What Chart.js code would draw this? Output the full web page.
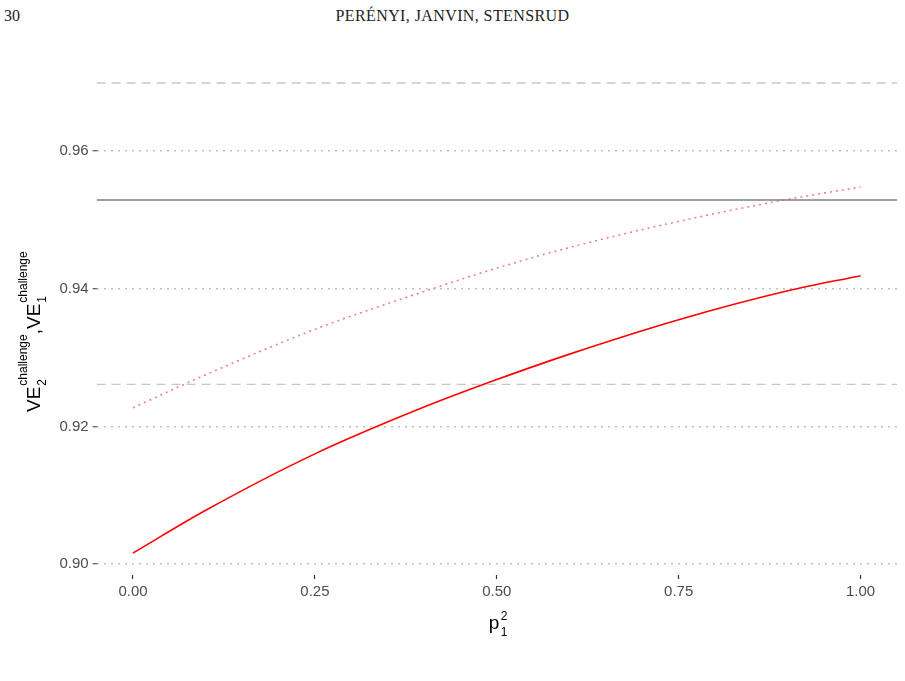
<!DOCTYPE html>
<html><head><meta charset="utf-8">
<script src="https://cdn.jsdelivr.net/npm/chart.js@4"></script>
<style>
body{margin:0;background:#fff;width:905px;height:681px;overflow:hidden;position:relative}
#hdr{position:absolute;top:7px;left:0;width:905px;font-family:"Liberation Serif",serif;font-size:16px;color:#222}
#pg{position:absolute;left:4px;top:0}
#ttl{position:absolute;left:0;width:905px;text-align:center;top:0;letter-spacing:0.4px}
#wrap{position:absolute;left:0;top:50px;width:905px;height:600px}
</style></head><body>
<div id="hdr"><span id="pg">30</span><div id="ttl">PERÉNYI, JANVIN, STENSRUD</div></div>
<div id="wrap"><canvas id="c"></canvas></div>
<script>
// values
let xs = [0, 0.1, 0.25, 0.4, 0.5, 0.6, 0.75, 0.9, 1];
let solidRed = [0.9016, 0.9078, 0.9160, 0.9228, 0.9268, 0.9305, 0.9355, 0.9397, 0.9419];
let dottedRed = [0.9227, 0.9275, 0.9341, 0.9396, 0.9430, 0.9460, 0.9498, 0.9530, 0.9548];
let grayLine = 0.9529;
let dashLines = [0.9699, 0.9261];
let xTicks = [0, 0.25, 0.5, 0.75, 1];
let yTicks = [0.90, 0.92, 0.94, 0.96];

const pts = ys => xs.map((x, i) => ({x: x, y: ys[i]}));
const hline = y => [{x: -0.05, y: y}, {x: 1.05, y: y}];

let datasets = [
  {data: hline(dashLines[0]), borderColor: '#c8c8c8', borderWidth: 1.3, borderDash: [9, 6]},
  {data: hline(dashLines[1]), borderColor: '#c8c8c8', borderWidth: 1.3, borderDash: [9, 6]},
  {data: [{x: -0.05, y: grayLine}, {x: 1.06, y: grayLine}], borderColor: '#7f7f7f', borderWidth: 1.5},
  {data: pts(dottedRed), borderColor: '#f27b7b', borderWidth: 1.5, borderDash: [2, 4], cubicInterpolationMode: 'monotone'},
  {data: pts(solidRed), borderColor: '#ff0000', borderWidth: 1.6, cubicInterpolationMode: 'monotone'}
];
datasets.forEach(d => { d.pointRadius = 0; d.fill = false; });

const titles = {
  id: 'titles',
  afterDraw(chart) {
    let ctx = chart.ctx;
    ctx.save();
    ctx.fillStyle = '#000';
    // x title p^2_1
    ctx.font = '19px "Liberation Sans", Arial';
    ctx.textBaseline = 'alphabetic';
    let cx = (chart.chartArea.left + chart.chartArea.right) / 2 - 8;
    ctx.fillText('p', cx, 579);
    ctx.font = '12px "Liberation Sans", Arial';
    ctx.fillText('2', cx + 12, 570);
    ctx.fillText('1', cx + 12, 586);
    // y title
    ctx.translate(40, 320);
    ctx.rotate(-Math.PI / 2);
    let x = -42;
    const big = '19px "Liberation Sans", Arial', small = '12px "Liberation Sans", Arial';
    ctx.font = big; ctx.fillText('VE', x, 0); x += ctx.measureText('VE').width;
    ctx.font = small; ctx.fillText('2', x + 1, 6); ctx.fillText('challenge', x + 1, -13);
    x += ctx.measureText('challenge').width + 1;
    ctx.font = big; ctx.fillText(',VE', x, 0); x += ctx.measureText(',VE').width;
    ctx.font = small; ctx.fillText('1', x + 1, 6); ctx.fillText('challenge', x + 1, -13);
    ctx.restore();
  }
};

const tickFont = {size: 15, family: '"Liberation Sans", Arial'};

new Chart(document.getElementById('c'), {
  type: 'line',
  data: {datasets: datasets},
  options: {
    responsive: true, maintainAspectRatio: false, animation: false,
    layout: {padding: {top: 22, right: 8, left: 0, bottom: 0}},
    plugins: {legend: {display: false}, tooltip: {enabled: false}},
    scales: {
      x: {
        type: 'linear', min: -0.05, max: 1.05,
        afterBuildTicks: s => { s.ticks = xTicks.map(v => ({value: v})); },
        afterFit: s => { s.height = 75; },
        border: {display: false},
        grid: {drawOnChartArea: false, tickLength: 4, tickColor: '#333', tickWidth: 1.2},
        ticks: {color: '#4d4d4d', font: tickFont, padding: 4, callback: v => v.toFixed(2)}
      },
      y: {
        min: 0.8984, max: 0.9715,
        afterBuildTicks: s => { s.ticks = yTicks.map(v => ({value: v})); },
        afterFit: s => { s.width = 96.6; },
        border: {display: false, dash: [2, 5]},
        grid: {color: '#c0c0c0', lineWidth: 1.5, tickLength: 4, tickColor: '#333', tickWidth: 1.2, tickBorderDash: [1, 0]},
        ticks: {color: '#4d4d4d', font: tickFont, padding: 4, callback: v => v.toFixed(2)}
      }
    }
  },
  plugins: [titles]
});
</script>
</body></html>
